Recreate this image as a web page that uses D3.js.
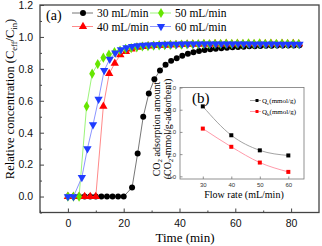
<!DOCTYPE html>
<html>
<head>
<meta charset="utf-8">
<script src="https://cdn.jsdelivr.net/npm/d3@7"></script>
<style>
  body { margin: 0; background: #fff; }
</style>
</head>
<body>
<script>
// breakthrough curves, panel (a)
var t30 = [0,2,4,6,8,10,12,14,16,18,20,23,25,27,29,31,33,35,37,39,41,43,45,47,49,51,53,55,57,59,61,63,65,67,69,71,73,75,77,79,81,83];
var c30 = [0,0,0,0,0,0,0,0,0,0,0,0.057,0.27,0.50,0.645,0.735,0.79,0.825,0.85,0.867,0.882,0.894,0.904,0.912,0.918,0.922,0.926,0.929,0.932,0.935,0.937,0.939,0.941,0.942,0.943,0.944,0.945,0.946,0.946,0.947,0.947,0.948];

var t40 = [0,2,4,6,8,10,12.7,14.8,16.8,18.8,20.8,22.8,24.8,26.8,28.8,30.8,32.8,34.8,36.8,38.8,40.8,42.8,44.8,46.8,48.8,50.8,52.8,54.8,56.8,58.8,60.8,62.8,64.8,66.8,68.8,70.8,72.8,74.8,76.8,78.8,80.8,82.8];
var c40 = [0,0,0,0,0,0,0.565,0.77,0.835,0.888,0.908,0.923,0.935,0.94,0.943,0.945,0.947,0.948,0.95,0.951,0.952,0.953,0.955,0.953,0.956,0.954,0.957,0.955,0.958,0.955,0.958,0.956,0.959,0.956,0.958,0.957,0.959,0.956,0.958,0.957,0.958,0.956];

var t50 = [0,2,4,6.7,8.7,10.7,12.7,14.7,16.7,18.7,20.7,22.7,24.7,26.7,28.7,30.7,32.7,34.7,36.7,38.7,40.7,42.7,44.7,46.7,48.7,50.7,52.7,54.7,56.7,58.7,60.7,62.7,64.7,66.7,68.7,70.7,72.7,74.7,76.7,78.7,80.7,82.7];
var c50 = [0,0,0,0.565,0.77,0.83,0.87,0.89,0.905,0.915,0.925,0.93,0.935,0.94,0.942,0.945,0.947,0.948,0.95,0.951,0.952,0.953,0.954,0.955,0.956,0.955,0.957,0.956,0.958,0.956,0.958,0.957,0.959,0.957,0.959,0.956,0.958,0.957,0.958,0.956,0.957,0.956];

var t60 = [0,2,5,7,9,11,13,15,17,19,21,23,25,27,29,31,33,35,37,39,41,43,45,47,49,51,53,55,57,59,61,63,65,67,69,71,73,75,77,79,81,83];
var c60 = [0,0,0.12,0.30,0.45,0.61,0.79,0.86,0.90,0.92,0.932,0.94,0.945,0.948,0.95,0.952,0.953,0.954,0.955,0.955,0.956,0.956,0.956,0.957,0.956,0.957,0.956,0.957,0.956,0.956,0.957,0.956,0.956,0.955,0.956,0.955,0.956,0.955,0.955,0.955,0.955,0.955];

var seriesNames = ["30 mL/min", "40 mL/min", "50 mL/min", "60 mL/min"];

// inset (b): adsorption amount vs flow rate
var flowRates = [30, 40, 50, 60];
var qe = [3.15, 1.85, 1.17, 0.94];
var qb = [2.15, 1.33, 0.62, 0.20];

var xTicks = [0, 20, 40, 60, 80];
var yTicks = [0, 0.2, 0.4, 0.6, 0.8, 1.0, 1.2];
var insetXTicks = [30, 40, 50, 60];
var insetYTicks = [0, 1, 2, 3, 4];

var SERIF = "'Liberation Serif', 'Times New Roman', serif";
var SANS = "'Liberation Sans', Arial, sans-serif";

var w = 322, h = 246;

var svg = d3.select("body").append("svg")
    .attr("width", w)
    .attr("height", h)
    .attr("font-family", SERIF);

var x = d3.scaleLinear().domain([-10, 90]).range([40, 319]);
var y = d3.scaleLinear().domain([-0.1, 1.2]).range([212.5, 5]);

// frame
svg.append("rect")
    .attr("x", 40).attr("y", 5)
    .attr("width", 279).attr("height", 207.5)
    .attr("fill", "#fff")
    .attr("stroke", "#444")
    .attr("stroke-width", 1.3);

// axes (ticks point inward)
var gx = svg.append("g")
    .attr("transform", "translate(0,212.5)")
    .call(d3.axisBottom(x).tickValues(xTicks).tickSizeInner(-4).tickSizeOuter(0).tickPadding(7).tickFormat(d3.format("d")));
svg.append("g")
    .attr("transform", "translate(0,212.5)")
    .call(d3.axisBottom(x).tickValues([-10, 10, 30, 50, 70]).tickSizeInner(-2).tickSizeOuter(0).tickFormat(""));
var gy = svg.append("g")
    .attr("transform", "translate(40,0)")
    .call(d3.axisLeft(y).tickValues(yTicks).tickSizeInner(-4).tickSizeOuter(0).tickPadding(7).tickFormat(d3.format(".1f")));
svg.append("g")
    .attr("transform", "translate(40,0)")
    .call(d3.axisLeft(y).tickValues([-0.1, 0.1, 0.3, 0.5, 0.7, 0.9, 1.1]).tickSizeInner(-2).tickSizeOuter(0).tickFormat(""));

svg.selectAll(".domain").remove();
svg.selectAll(".tick line").attr("stroke", "#444").attr("stroke-width", 1);
[gx, gy].forEach(function(g) {
  g.attr("font-family", SANS).attr("font-size", 10.5);
  g.selectAll(".tick text").attr("fill", "#111");
});

// titles
svg.append("text")
    .attr("x", 185).attr("y", 242)
    .attr("text-anchor", "middle")
    .attr("font-size", 13)
    .text("Time (min)");

var yt = svg.append("text")
    .attr("transform", "translate(14,99) rotate(-90)")
    .attr("text-anchor", "middle")
    .attr("font-size", 12.5);
yt.append("tspan").text("Relative concentration (C");
yt.append("tspan").attr("font-size", 8.5).attr("dy", 3).text("eff");
yt.append("tspan").attr("dy", -3).text("/C");
yt.append("tspan").attr("font-size", 8.5).attr("dy", 3).text("in");
yt.append("tspan").attr("dy", -3).text(")");

svg.append("text")
    .attr("x", 46).attr("y", 20)
    .attr("font-size", 14)
    .text("(a)");

// series
var styles = [
  { t: t30, c: c30, line: "#777", fill: "#000", sym: d3.symbolCircle, size: 28, rot: 0 },
  { t: t40, c: c40, line: "#ff8a8a", fill: "#f00", sym: d3.symbolTriangle, size: 30, rot: 0 },
  { t: t50, c: c50, line: "#9cf57a", fill: "#66e600", sym: d3.symbolDiamond, size: 30, rot: 0 },
  { t: t60, c: c60, line: "#8c95ff", fill: "#1f3cff", sym: d3.symbolTriangle, size: 30, rot: 180 }
];

var line = d3.line()
    .x(function(d) { return x(d[0]); })
    .y(function(d) { return y(d[1]); });

styles.forEach(function(s) {
  var pts = s.t.map(function(tt, i) { return [tt, s.c[i]]; });
  svg.append("path")
      .datum(pts)
      .attr("d", line)
      .attr("fill", "none")
      .attr("stroke", s.line)
      .attr("stroke-width", 1);
  svg.append("g").selectAll("path")
      .data(pts)
      .enter().append("path")
      .attr("d", d3.symbol().type(s.sym).size(s.size))
      .attr("transform", function(d) { return "translate(" + x(d[0]) + "," + y(d[1]) + ") rotate(" + s.rot + ")"; })
      .attr("fill", s.fill);
});

// legend
var legPos = [[83, 13], [83, 26.5], [161, 13], [161, 26.5]];
styles.forEach(function(s, i) {
  var lx = legPos[i][0], ly = legPos[i][1];
  svg.append("line")
      .attr("x1", lx - 11).attr("x2", lx + 10)
      .attr("y1", ly).attr("y2", ly)
      .attr("stroke", s.line).attr("stroke-width", 1);
  svg.append("path")
      .attr("d", d3.symbol().type(s.sym).size(s.size))
      .attr("transform", "translate(" + lx + "," + ly + ") rotate(" + s.rot + ")")
      .attr("fill", s.fill);
  svg.append("text")
      .attr("x", lx + 14).attr("y", ly + 4)
      .attr("font-size", 11.5)
      .text(seriesNames[i]);
});

// ---- inset (b) ----
var ix = d3.scaleLinear().domain([22, 65.5]).range([180, 304]);
var iy = d3.scaleLinear().domain([-0.12, 4]).range([179, 87.5]);

svg.append("rect")
    .attr("x", 180).attr("y", 87.5)
    .attr("width", 124).attr("height", 91.5)
    .attr("fill", "#fff")
    .attr("stroke", "#777")
    .attr("stroke-width", 0.8);

var ig1 = svg.append("g")
    .attr("transform", "translate(0,179)")
    .call(d3.axisBottom(ix).tickValues(insetXTicks).tickSizeInner(-2.5).tickSizeOuter(0).tickPadding(4));
var ig2 = svg.append("g")
    .attr("transform", "translate(180,0)")
    .call(d3.axisLeft(iy).tickValues(insetYTicks).tickSizeInner(-2.5).tickSizeOuter(0).tickPadding(4));
[ig1, ig2].forEach(function(g) {
  g.attr("font-family", SANS).attr("font-size", 6);
  g.select(".domain").remove();
  g.selectAll(".tick line").attr("stroke", "#777").attr("stroke-width", 0.8);
  g.selectAll(".tick text").attr("fill", "#333");
});

svg.append("text")
    .attr("x", 244).attr("y", 198)
    .attr("text-anchor", "middle")
    .attr("font-size", 10)
    .text("Flow rate (mL/min)");

var it1 = svg.append("text")
    .attr("transform", "translate(160,129) rotate(-90)")
    .attr("text-anchor", "middle")
    .attr("font-size", 10);
it1.append("tspan").text("CO");
it1.append("tspan").attr("font-size", 7).attr("dy", 2).text("2");
it1.append("tspan").attr("dy", -2).text(" adsorption amount");

var it2 = svg.append("text")
    .attr("transform", "translate(171,129) rotate(-90)")
    .attr("text-anchor", "middle")
    .attr("font-size", 10);
it2.append("tspan").text("(CO");
it2.append("tspan").attr("font-size", 7).attr("dy", 2).text("2");
it2.append("tspan").attr("dy", -2).text("-mmol/g-adsorbent)");

svg.append("text")
    .attr("x", 192).attr("y", 103)
    .attr("font-size", 15)
    .text("(b)");

var inset = [
  { v: qe, line: "#999", fill: "#000", label: "e" },
  { v: qb, line: "#ff8fa0", fill: "#f00", label: "b" }
];

var iline = d3.line()
    .x(function(d) { return ix(d[0]); })
    .y(function(d) { return iy(d[1]); })
    .curve(d3.curveMonotoneX);

inset.forEach(function(s, i) {
  var pts = flowRates.map(function(f, k) { return [f, s.v[k]]; });
  svg.append("path")
      .datum(pts)
      .attr("d", iline)
      .attr("fill", "none")
      .attr("stroke", s.line)
      .attr("stroke-width", 0.9);
  svg.append("g").selectAll("rect")
      .data(pts)
      .enter().append("rect")
      .attr("x", function(d) { return ix(d[0]) - 2; })
      .attr("y", function(d) { return iy(d[1]) - 2; })
      .attr("width", 4).attr("height", 4)
      .attr("fill", s.fill);

  var ly = 100.5 + i * 11;
  svg.append("line")
      .attr("x1", 250).attr("x2", 261)
      .attr("y1", ly).attr("y2", ly)
      .attr("stroke", s.line).attr("stroke-width", 0.9);
  svg.append("rect")
      .attr("x", 255.5).attr("y", ly - 1.5)
      .attr("width", 3).attr("height", 3)
      .attr("fill", s.fill);
  var lt = svg.append("text")
      .attr("x", 262).attr("y", ly + 2.5)
      .attr("font-size", 7);
  lt.append("tspan").text("Q");
  lt.append("tspan").attr("font-size", 5).attr("dy", 1.5).text(s.label);
  lt.append("tspan").attr("dy", -1.5).text("(mmol/g)");
});
</script>
</body>
</html>
